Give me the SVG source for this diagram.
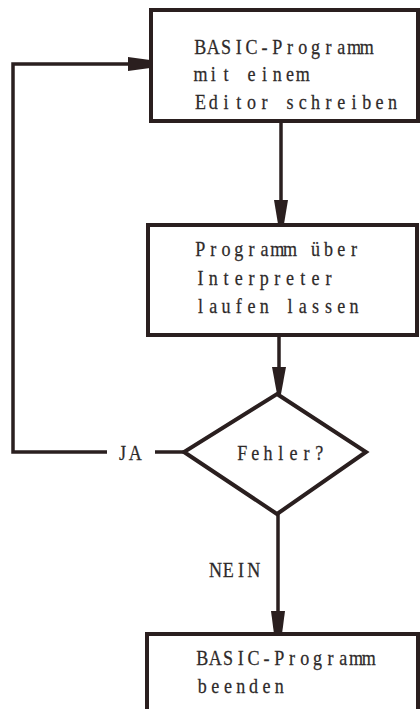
<svg xmlns="http://www.w3.org/2000/svg" width="420" height="709" viewBox="0 0 420 709">
  <defs>
    <style>
      .box { fill: #ffffff; stroke: #2a1f1f; stroke-width: 4; }
      .line { fill: none; stroke: #2a1f1f; stroke-width: 3.5; }
      .head { fill: #2a1f1f; }
      /* typewriter look: slightly condensed serif glyphs centred on a fixed 12.8px pitch
         (local pitch 14.884 inside scale(0.86,1)) */
      .txt { font-family: "Liberation Serif", "DejaVu Serif", serif; font-size: 21px; fill: #2e2a2a; stroke: #2e2a2a; stroke-width: 0.25; text-anchor: middle; }
    </style>
  </defs>
  <rect width="420" height="709" fill="#ffffff"/>

  <!-- connectors -->
  <g id="connectors">
    <!-- editor box to interpreter box -->
    <line class="line" x1="281" y1="121" x2="281" y2="205"/>
    <polygon class="head" points="274,200 288,200 284,224 278,224"/>
    <!-- interpreter box to decision -->
    <line class="line" x1="279" y1="335" x2="279" y2="372"/>
    <polygon class="head" points="272,367 286,367 281,394 277,394"/>
    <!-- NEIN branch to end box -->
    <line class="line" x1="278" y1="514" x2="278" y2="615"/>
    <polygon class="head" points="271,611 285,611 282,634 274,634"/>
    <!-- JA branch back to editor box -->
    <polyline class="line" points="107,452 13,452 13,64 132,64"/>
    <line class="line" x1="155" y1="452" x2="184" y2="452"/>
    <polygon class="head" points="128,57 128,71 150,68 150,60"/>
    <text class="txt" transform="translate(116,0) scale(0.86,1)" x="7.44 22.33" y="460">JA</text>
    <text class="txt" transform="translate(209,0) scale(0.86,1)" x="7.44 22.33 37.21 52.10" y="577">NEIN</text>
  </g>

  <g id="node-edit">
    <rect class="box" x="151" y="10" width="267" height="111"/>
    <text class="txt" transform="translate(194,0) scale(0.86,1)" x="7.44 22.33 37.21 52.10 66.98 81.86 96.75 111.63 126.51 141.40 156.28 171.17 186.05 200.93" y="54">BASIC-Programm</text>
    <text class="txt" transform="translate(194,0) scale(0.86,1)" x="7.44 22.33 37.21 52.10 66.98 81.86 96.75 111.63 126.51" y="81">mit einem</text>
    <text class="txt" transform="translate(194,0) scale(0.86,1)" x="7.44 22.33 37.21 52.10 66.98 81.86 96.75 111.63 126.51 141.40 156.28 171.17 186.05 200.93 215.82 230.70" y="109">Editor schreiben</text>
  </g>

  <g id="node-run">
    <rect class="box" x="148" y="225" width="269" height="110"/>
    <text class="txt" transform="translate(194,0) scale(0.86,1)" x="7.44 22.33 37.21 52.10 66.98 81.86 96.75 111.63 126.51 141.40 156.28 171.17 186.05" y="256">Programm über</text>
    <text class="txt" transform="translate(194,0) scale(0.86,1)" x="7.44 22.33 37.21 52.10 66.98 81.86 96.75 111.63 126.51 141.40 156.28" y="285">Interpreter</text>
    <text class="txt" transform="translate(194,0) scale(0.86,1)" x="7.44 22.33 37.21 52.10 66.98 81.86 96.75 111.63 126.51 141.40 156.28 171.17 186.05" y="313">laufen lassen</text>
  </g>

  <g id="node-check">
    <polygon class="box" points="277,394 366,452 277,514 184,452"/>
    <text class="txt" transform="translate(236,0) scale(0.86,1)" x="7.44 22.33 37.21 52.10 66.98 81.86 96.75" y="460">Fehler?</text>
  </g>

  <g id="node-end">
    <rect class="box" x="147" y="634" width="271" height="80"/>
    <text class="txt" transform="translate(196,0) scale(0.86,1)" x="7.44 22.33 37.21 52.10 66.98 81.86 96.75 111.63 126.51 141.40 156.28 171.17 186.05 200.93" y="665">BASIC-Programm</text>
    <text class="txt" transform="translate(196,0) scale(0.86,1)" x="7.44 22.33 37.21 52.10 66.98 81.86 96.75" y="693">beenden</text>
  </g>
</svg>
